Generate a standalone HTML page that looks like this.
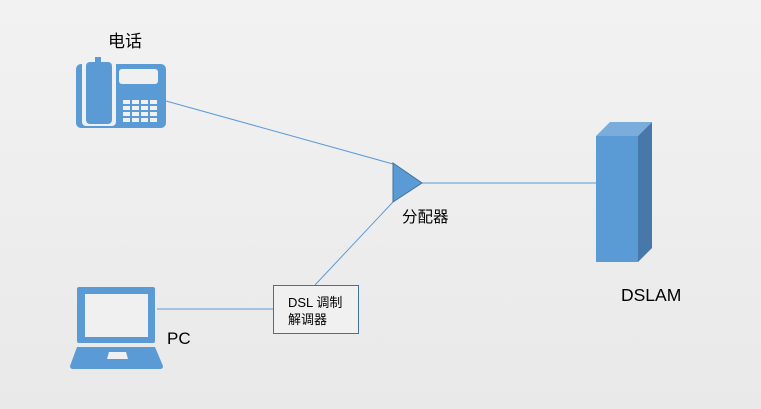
<!DOCTYPE html>
<html><head><meta charset="utf-8"><style>
body{margin:0;width:761px;height:409px;overflow:hidden;background:linear-gradient(#f2f2f2,#e9e9e9);}
svg{position:absolute;left:0;top:0}
text{font-family:"Liberation Sans","Noto Sans CJK SC",sans-serif;fill:#000}
</style></head><body>
<svg width="761" height="409" viewBox="0 0 761 409">
<g stroke="#5b9bd5" stroke-width="1" fill="none">
<line x1="166" y1="101" x2="393" y2="164"/>
<line x1="315" y1="285" x2="393" y2="202"/>
<line x1="422" y1="183" x2="596" y2="183"/>
<line x1="157" y1="309" x2="273" y2="309"/>
</g>
<!-- phone -->
<rect x="76" y="64" width="90" height="64" rx="5" fill="#5b9bd5"/>
<rect x="82" y="60" width="34" height="66" rx="4" fill="#f0f0f0"/>
<rect x="86" y="62" width="26" height="62" rx="4" fill="#5b9bd5"/>
<rect x="95" y="57" width="6" height="8" fill="#5b9bd5"/>
<rect x="119" y="69" width="39" height="15" rx="3" fill="#f0f0f0"/>
<g fill="#f0f0f0">
<rect x="123" y="100" width="7" height="4"/><rect x="132" y="100" width="7" height="4"/><rect x="141" y="100" width="7" height="4"/><rect x="150" y="100" width="7" height="4"/>
<rect x="123" y="106" width="7" height="4"/><rect x="132" y="106" width="7" height="4"/><rect x="141" y="106" width="7" height="4"/><rect x="150" y="106" width="7" height="4"/>
<rect x="123" y="112" width="7" height="4"/><rect x="132" y="112" width="7" height="4"/><rect x="141" y="112" width="7" height="4"/><rect x="150" y="112" width="7" height="4"/>
<rect x="123" y="118" width="7" height="4"/><rect x="132" y="118" width="7" height="4"/><rect x="141" y="118" width="7" height="4"/><rect x="150" y="118" width="7" height="4"/>
</g>
<text x="108" y="47" font-size="17">电话</text>
<!-- laptop -->
<rect x="77" y="287" width="78" height="56" rx="2" fill="#5b9bd5"/>
<rect x="85" y="294" width="63" height="43" fill="#f0f0f0"/>
<path d="M77 347 H155 L163 366 Q163 369 160 369 H73 Q70 369 70 366 Z" fill="#5b9bd5"/>
<path d="M109 352 H126 L128 359 H107 Z" fill="#f0f0f0"/>
<text x="167" y="344" font-size="17">PC</text>
<!-- modem box -->
<rect x="273.5" y="285.5" width="85" height="48" fill="#f0f0f0" stroke="#41719c"/>
<text x="288" y="307" font-size="13">DSL 调制</text>
<text x="288" y="324" font-size="13">解调器</text>
<!-- splitter -->
<path d="M393 163 L422 183 L393 202 Z" fill="#5b9bd5" stroke="#41719c" stroke-width="1"/>
<text x="402" y="222" font-size="15.5">分配器</text>
<!-- DSLAM -->
<path d="M596 136 L610 122 H652 L638 136 Z" fill="#7aaddc"/>
<path d="M638 136 L652 122 V248 L638 262 Z" fill="#4679aa"/>
<rect x="596" y="136" width="42" height="126" fill="#5b9bd5"/>
<text x="621" y="301" font-size="17.5">DSLAM</text>
</svg>
</body></html>
